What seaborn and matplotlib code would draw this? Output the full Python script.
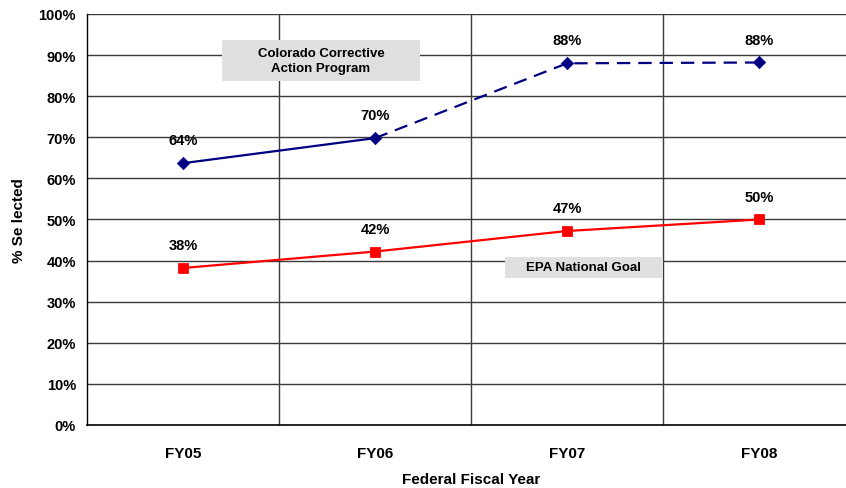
import matplotlib
matplotlib.use("Agg")
import matplotlib.pyplot as plt
import seaborn as sns
import pandas as pd
from matplotlib.patches import Rectangle

years = ["FY05", "FY06", "FY07", "FY08"]
colorado = [63.7, 69.8, 88.0, 88.2]
colorado_labels = ["64%", "70%", "88%", "88%"]
epa = [38.2, 42.2, 47.2, 50.0]
epa_labels = ["38%", "42%", "47%", "50%"]

sns.set_style("white")
plt.rcParams["font.family"] = ["Liberation Sans", "DejaVu Sans"]
plt.rcParams["text.color"] = "black"
plt.rcParams["axes.labelcolor"] = "black"
plt.rcParams["xtick.color"] = "black"
plt.rcParams["ytick.color"] = "black"

pos = list(range(len(years)))
df = pd.DataFrame({"pos": pos, "year": years, "colorado": colorado, "epa": epa})

fig = plt.figure(figsize=(8.46, 4.89), dpi=100)
ax = fig.add_axes([87 / 846, 1 - 426 / 489, 768 / 846, 411 / 489])

# grid: horizontal every 10%, vertical at category boundaries
for v in range(10, 101, 10):
    ax.axhline(v, color="#3a3a3a", lw=1.0, zorder=1)
for b in [0.5, 1.5, 2.5]:
    ax.axvline(b, color="#3a3a3a", lw=1.0, zorder=1)

navy = "#000080"
red = "#ff0000"

# Colorado: solid for first segment, dashed after
sns.lineplot(data=df.iloc[:2], x="pos", y="colorado", color=navy, lw=1.6, ax=ax, zorder=3)
sns.lineplot(data=df.iloc[1:], x="pos", y="colorado", color=navy, lw=1.6, ax=ax,
             linestyle=(0, (6, 3.6)), zorder=3)
sns.scatterplot(data=df, x="pos", y="colorado", color=navy, marker="D", s=40,
                edgecolor=navy, ax=ax, zorder=4)

sns.lineplot(data=df, x="pos", y="epa", color=red, lw=1.6, ax=ax, zorder=3)
sns.scatterplot(data=df, x="pos", y="epa", color=red, marker="s", s=50,
                edgecolor=red, ax=ax, zorder=4)

for x, y, t in zip(pos, colorado, colorado_labels):
    ax.annotate(t, (x, y), xytext=(0, 16.5), textcoords="offset points",
                ha="center", va="center", fontsize=10.5, fontweight="bold")
for x, y, t in zip(pos, epa, epa_labels):
    ax.annotate(t, (x, y), xytext=(0, 16.5), textcoords="offset points",
                ha="center", va="center", fontsize=10.5, fontweight="bold")

# series name boxes
ax.add_patch(Rectangle((0.203, 83.7), 1.031, 10.0, facecolor="#e0e0e0",
                       edgecolor="none", zorder=2))
ax.text(0.719, 88.7, "Colorado Corrective\nAction Program", ha="center", va="center",
        fontsize=9.5, fontweight="bold", linespacing=1.3, zorder=5)
ax.add_patch(Rectangle((1.677, 35.8), 0.823, 5.1, facecolor="#e0e0e0",
                       edgecolor="none", zorder=2))
ax.text(2.088, 38.35, "EPA National Goal", ha="center", va="center",
        fontsize=9.5, fontweight="bold", zorder=5)

ax.set_xlim(-0.5, 3.5)
ax.set_ylim(0, 100)
ax.set_xticks(pos)
ax.set_xticklabels(years, fontsize=11, fontweight="bold")
ax.set_xticks([-0.5, 0.5, 1.5, 2.5], minor=True)
ax.tick_params(axis="x", which="major", length=0, pad=15)
ax.tick_params(axis="x", which="minor", length=5, width=1, color="#3a3a3a", direction="out")
ax.set_yticks(range(0, 101, 10))
ax.set_yticklabels([f"{v}%" for v in range(0, 101, 10)], fontsize=10.5, fontweight="bold")
ax.tick_params(axis="y", length=5, width=1, color="#3a3a3a", direction="out", pad=3)

ax.set_xlabel("Federal Fiscal Year", fontsize=11, fontweight="bold", labelpad=9)
ax.set_ylabel("% Se lected", fontsize=11, fontweight="bold", labelpad=9)

for s in ["top", "right"]:
    ax.spines[s].set_visible(False)
ax.spines["left"].set_color("black")
ax.spines["bottom"].set_color("black")
ax.spines["left"].set_linewidth(1.0)
ax.spines["bottom"].set_linewidth(1.2)

fig.savefig("out.png", dpi=100)
